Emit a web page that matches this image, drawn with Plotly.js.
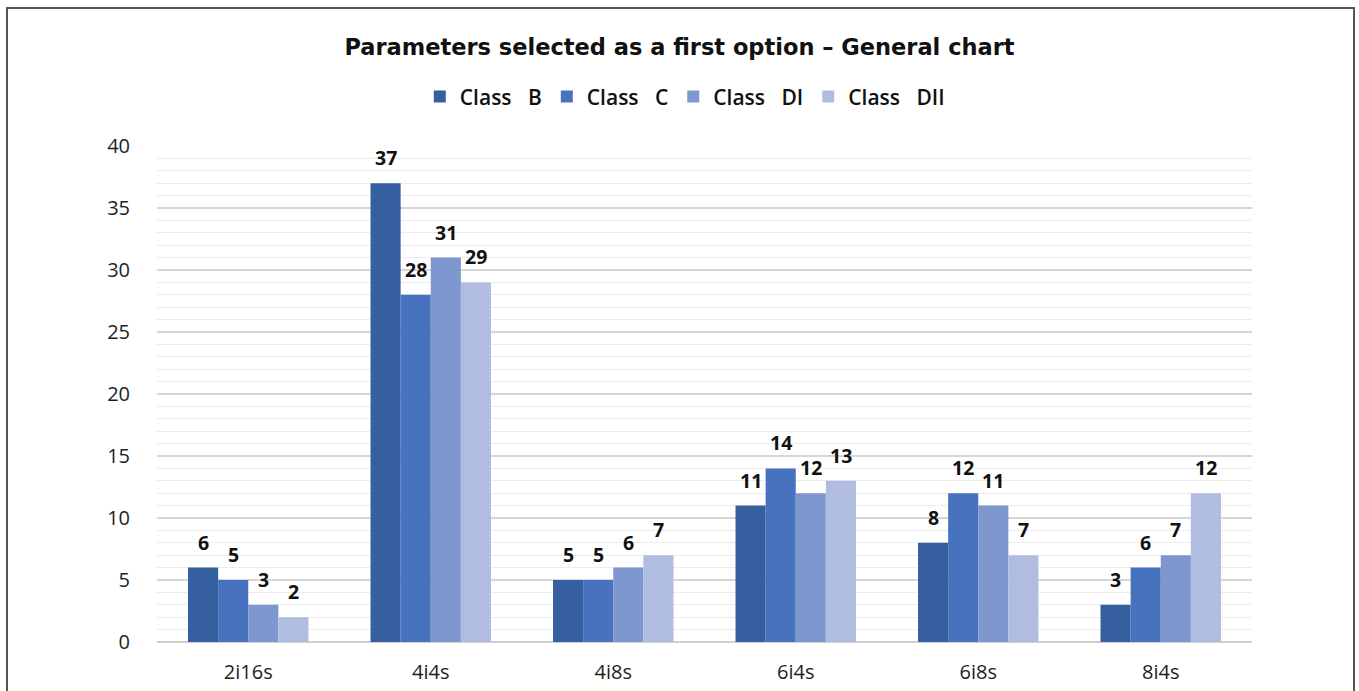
<!DOCTYPE html>
<html>
<head>
<meta charset="utf-8">
<script src="https://cdn.plot.ly/plotly-3.0.1.min.js"></script>
<style>
  html, body { margin: 0; padding: 0; background: #ffffff; }
  #wrap { position: relative; width: 1359px; height: 691px; overflow: hidden; }
  #chart { position: absolute; left: 0; top: 0; width: 1359px; height: 691px; }
  #frame { position: absolute; left: 6px; top: 7px; width: 1349px; height: 700px;
           border-left: 2px solid #555; border-top: 2px solid #555; border-right: 2px solid #555;
           box-sizing: border-box; pointer-events: none; }
</style>
</head>
<body>
<div id="wrap">
  <div id="chart"></div>
  <div id="frame"></div>
</div>
<script>
const categories = ["2i16s", "4i4s", "4i8s", "6i4s", "6i8s", "8i4s"];
const seriesNames = ["Class\u00a0\u00a0\u00a0B", "Class\u00a0\u00a0\u00a0C", "Class\u00a0\u00a0\u00a0DI", "Class\u00a0\u00a0\u00a0DII"];
const classB = [6, 37, 5, 11, 8, 3];
const classC = [5, 28, 5, 14, 12, 6];
const classDI = [3, 31, 6, 12, 11, 7];
const classDII = [2, 29, 7, 13, 7, 12];
const colors = ["#365f9f", "#4672be", "#7f97cf", "#b1bde0"];

const allValues = [classB, classC, classDI, classDII];
const traces = allValues.map((vals, i) => ({
  type: "bar",
  name: seriesNames[i],
  x: categories,
  y: vals,
  marker: { color: colors[i], line: { width: 0 } },
  hoverinfo: "x+y"
}));

// value labels above bars, placed through the axes' own scales
const plotWidthPx = 1359 - 157 - 107;
const bargap = 0.34;
const barPx = (plotWidthPx / categories.length) * (1 - bargap) / allValues.length;
const annotations = [];
allValues.forEach((vals, i) => {
  vals.forEach((v, j) => {
    annotations.push({
      x: categories[j], y: v, xref: "x", yref: "y",
      text: String(v), showarrow: false,
      xanchor: "center", yanchor: "bottom",
      xshift: (i - (allValues.length - 1) / 2) * barPx,
      yshift: 10,
      font: { family: "Open Sans, DejaVu Sans, sans-serif", size: 19.5, color: "#111", weight: 700 }
    });
  });
});

const layout = {
  width: 1359,
  height: 691,
  margin: { l: 157, r: 107, t: 146, b: 49 },
  paper_bgcolor: "#ffffff",
  plot_bgcolor: "#ffffff",
  barmode: "group",
  bargap: bargap,
  bargroupgap: 0,
  title: {
    text: "Parameters selected as a first option \u2013 General chart",
    font: { family: "DejaVu Sans, sans-serif", size: 22.5, color: "#111", weight: 700 },
    x: 0.5, xanchor: "center",
    y: 1 - 47 / 691, yanchor: "middle", yref: "container"
  },
  showlegend: true,
  legend: {
    orientation: "h",
    x: 0.482, xanchor: "center",
    y: 1.099, yanchor: "middle",
    font: { family: "Open Sans, DejaVu Sans, sans-serif", size: 21, color: "#111", weight: 600 },
    itemwidth: 30,
    traceorder: "normal",
    itemclick: false
  },
  annotations: annotations,
  xaxis: {
    type: "category",
    tickfont: { family: "Open Sans, DejaVu Sans, sans-serif", size: 20, color: "#1e1e1e" },
    showgrid: false,
    showline: false,
    ticks: "",
    ticklabelstandoff: 16
  },
  yaxis: {
    range: [0, 40],
    dtick: 5,
    tick0: 0,
    tickfont: { family: "Open Sans, DejaVu Sans, sans-serif", size: 20, color: "#1e1e1e" },
    showgrid: true,
    gridcolor: "#d6d6d6",
    gridwidth: 1.5,
    zeroline: true,
    zerolinecolor: "#cfcfcf",
    zerolinewidth: 2,
    showline: false,
    ticks: "",
    ticklabelstandoff: 26,
    minor: { dtick: 1, showgrid: true, gridcolor: "#ececec", gridwidth: 1 }
  }
};

Plotly.newPlot("chart", traces, layout, { displayModeBar: false, staticPlot: true });
</script>
</body>
</html>
